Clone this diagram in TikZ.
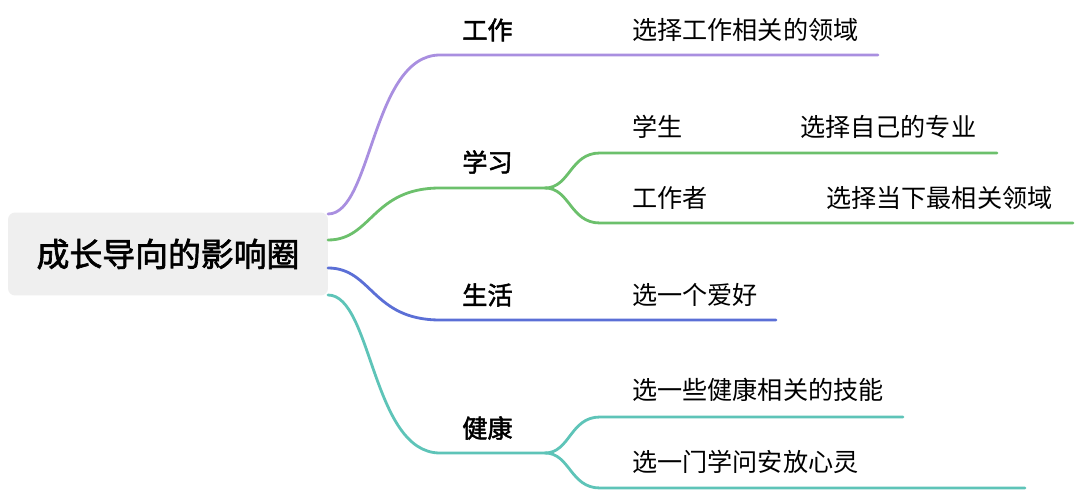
\documentclass[tikz,border=0pt]{standalone}
\usepackage{fontspec}
\setmainfont{Noto Sans CJK SC}[AutoFakeBold=2]
\definecolor{cwork}{HTML}{A98FE0}
\definecolor{cstudy}{HTML}{6CC06C}
\definecolor{clife}{HTML}{5B6FD6}
\definecolor{chealth}{HTML}{5EC4B8}
\definecolor{croot}{HTML}{EFEFEF}
\tikzset{
  rootbox/.style={rectangle, rounded corners=4pt, fill=croot, minimum width=6.4cm, minimum height=1.66cm, font=\fontsize{18.7}{22}\selectfont\bfseries},
  topic/.style={anchor=west, inner sep=0pt, font=\fontsize{14.3}{17}\selectfont\bfseries},
  leaf/.style={anchor=west, inner sep=0pt, font=\fontsize{14.3}{17}\selectfont},
  branch/.style={line width=1.6pt, line cap=round}
}
\begin{document}
\begin{tikzpicture}[x=0.02cm,y=-0.02cm]
  \useasboundingbox (0,0) rectangle (1080,493);

  % root
  \node (root) [rootbox] at (168,254) {成长导向的影响圈};

  % topics
  \node (work) [topic] at (462,30) {工作};
  \node (study) [topic] at (462,162) {学习};
  \node (life) [topic] at (462,295) {生活};
  \node (health) [topic] at (462,428) {健康};

  % leaves
  \node (workA) [leaf] at (632,30) {选择工作相关的领域};
  \node (stuA) [leaf] at (632,127) {学生};
  \node (stuAx) [leaf] at (800,127) {选择自己的专业};
  \node (stuB) [leaf] at (632,198) {工作者};
  \node (stuBx) [leaf] at (826,198) {选择当下最相关领域};
  \node (lifeA) [leaf] at (632,295) {选一个爱好};
  \node (heaA) [leaf] at (632,390) {选一些健康相关的技能};
  \node (heaB) [leaf] at (632,462) {选一门学问安放心灵};

  % points
  \coordinate (sWork) at (328,214);
  \coordinate (sStudy) at (328,240);
  \coordinate (sLife) at (328,268);
  \coordinate (sHealth) at (328,295);
  \coordinate (jStudy) at (545,188);
  \coordinate (jHealth) at (545,453);

  % branches
  \draw [branch, cwork] (sWork) .. controls (372,214) and (372,55) .. (440,55) -- (878,55);
  \draw [branch, cstudy] (sStudy) .. controls (372,240) and (372,188) .. (440,188) -- (jStudy);
  \draw [branch, cstudy] (jStudy) .. controls (570,188) and (570,153) .. (600,153) -- (997,153);
  \draw [branch, cstudy] (jStudy) .. controls (570,188) and (570,223) .. (600,223) -- (1073,223);
  \draw [branch, clife] (sLife) .. controls (372,268) and (372,320) .. (440,320) -- (776,320);
  \draw [branch, chealth] (sHealth) .. controls (372,295) and (372,453) .. (440,453) -- (jHealth);
  \draw [branch, chealth] (jHealth) .. controls (570,453) and (570,417) .. (600,417) -- (903,417);
  \draw [branch, chealth] (jHealth) .. controls (570,453) and (570,488) .. (600,488) -- (1025,488);
\end{tikzpicture}
\end{document}
